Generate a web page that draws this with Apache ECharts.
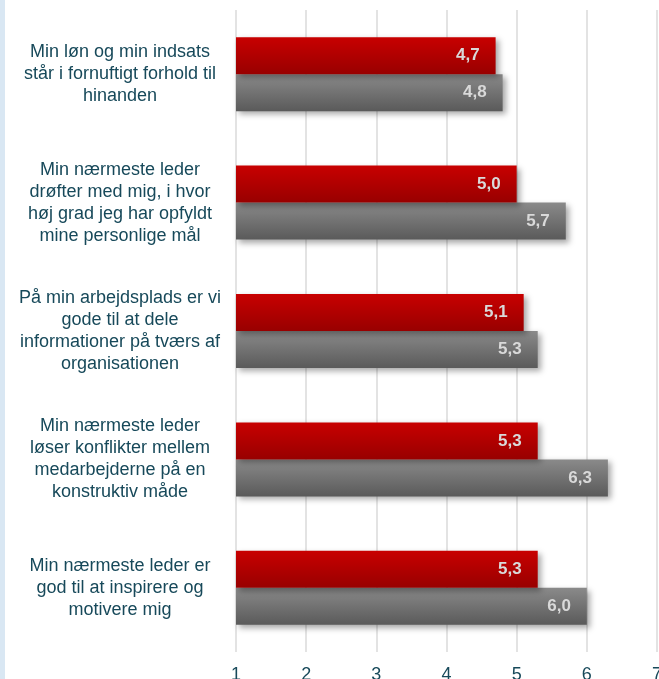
<!DOCTYPE html>
<html><head><meta charset="utf-8">
<script src="https://cdn.jsdelivr.net/npm/echarts@6/dist/echarts.min.js"></script>
<style>html,body{margin:0;padding:0;background:#fff}#c{width:659px;height:679px}</style>
</head><body><div id="c"></div>
<script>
const categories = [
  "Min løn og min indsats\nstår i fornuftigt forhold til\nhinanden",
  "Min nærmeste leder\ndrøfter med mig, i hvor\nhøj grad jeg har opfyldt\nmine personlige mål",
  "På min arbejdsplads er vi\ngode til at dele\ninformationer på tværs af\norganisationen",
  "Min nærmeste leder\nløser konflikter mellem\nmedarbejderne på en\nkonstruktiv måde",
  "Min nærmeste leder er\ngod til at inspirere og\nmotivere mig"
];
const redValues = [4.7, 5.0, 5.1, 5.3, 5.3];
const grayValues = [4.8, 5.7, 5.3, 6.3, 6.0];
const xTicks = [1, 2, 3, 4, 5, 6, 7];

const chart = echarts.init(document.getElementById('c'));
const fmt = p => p.value.toFixed(1).replace('.', ',');
const labelStyle = {show: true, position: 'insideRight', distance: 16, color: '#d9d9d9', fontSize: 17, fontWeight: 'bold', fontFamily: 'Liberation Sans, Arial', formatter: fmt};
const shadow = {shadowBlur: 6, shadowOffsetX: 3, shadowOffsetY: 3, shadowColor: 'rgba(0,0,0,0.35)'};
chart.setOption({
  animation: false,
  graphic: [{type: 'rect', shape: {x: 0, y: 0, width: 5, height: 679}, style: {fill: '#d9e7f3'}}],
  grid: {left: 236, right: 2, top: 10, bottom: 27, containLabel: false, outerBoundsMode: 'none'},
  xAxis: {type: 'value', min: xTicks[0], max: xTicks[xTicks.length - 1], interval: 1,
    axisLine: {show: false}, axisTick: {show: false},
    splitLine: {lineStyle: {color: '#e3e3e3', width: 2}},
    axisLabel: {color: '#17495a', fontSize: 18, fontFamily: 'Liberation Sans, Arial', margin: 14}},
  yAxis: {type: 'category', data: categories, inverse: true,
    axisLine: {show: false}, axisTick: {show: false},
    axisLabel: {color: '#17495a', fontSize: 18, lineHeight: 22, fontFamily: 'Liberation Sans, Arial', align: 'center', margin: 116}},
  series: [
    {type: 'bar', name: 'Virksomhed', data: redValues, barWidth: 37, barGap: '0%',
      itemStyle: Object.assign({color: new echarts.graphic.LinearGradient(0, 0, 0, 1, [{offset: 0, color: '#c80000'}, {offset: 1, color: '#980000'}])}, shadow),
      label: labelStyle, z: 3},
    {type: 'bar', name: 'Benchmark', data: grayValues, barWidth: 37, barGap: '0%',
      itemStyle: Object.assign({color: new echarts.graphic.LinearGradient(0, 0, 0, 1, [{offset: 0, color: '#8a8a8a'}, {offset: 1, color: '#5a5a5a'}])}, shadow),
      label: labelStyle, z: 2}
  ]
});
</script></body></html>
